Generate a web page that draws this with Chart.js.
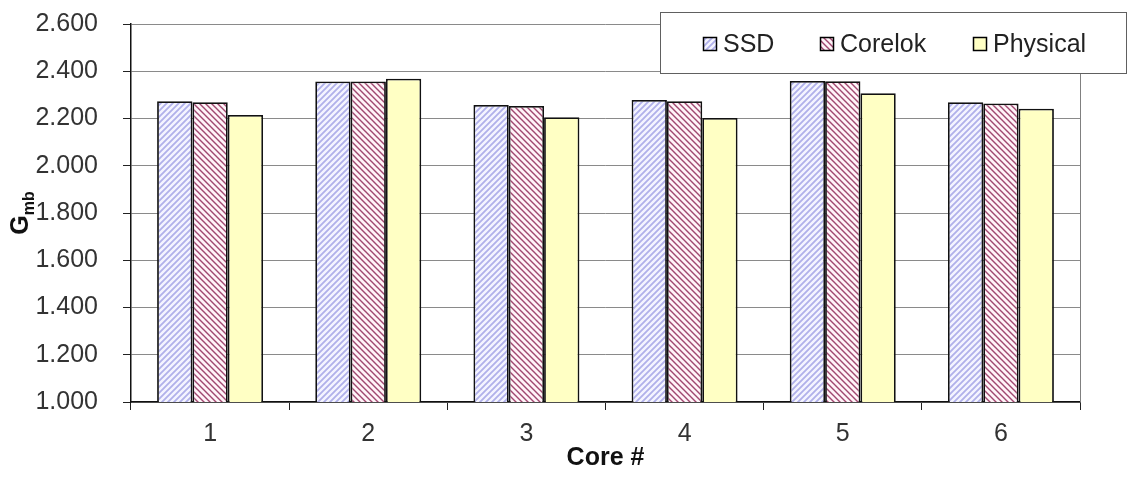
<!DOCTYPE html>
<html>
<head>
<meta charset="utf-8">
<title>Gmb by core</title>
<script src="https://cdn.jsdelivr.net/npm/chart.js@4.4.1/dist/chart.umd.min.js"></script>
<style>
  html, body { margin: 0; padding: 0; background: #fff; }
  #wrap { width: 1127px; height: 481px; }
</style>
</head>
<body>
<div id="wrap"><canvas id="gmb" width="1127" height="481"></canvas></div>
<script>
// core numbers and measured Gmb values
const cores = ['1', '2', '3', '4', '5', '6'];
const ssdValues = [2.273, 2.357, 2.257, 2.278, 2.359, 2.269];
const corelokValues = [2.269, 2.357, 2.253, 2.273, 2.358, 2.264];
const physicalValues = [2.215, 2.368, 2.205, 2.202, 2.307, 2.241];
const seriesNames = ['SSD', 'Corelok', 'Physical'];

const FONT = '"Liberation Sans", Arial, sans-serif';

// diagonal hatch fill, dir 1 = '/', dir -1 = '\'
function hatch(bg, line, dir, size, width) {
    const c = document.createElement('canvas');
    c.width = c.height = size;
    const g = c.getContext('2d');
    g.fillStyle = bg;
    g.fillRect(0, 0, size, size);
    g.strokeStyle = line;
    g.lineWidth = width;
    g.beginPath();
    for (let k = -1; k <= 1; k++) {
        if (dir > 0) {
            g.moveTo(k * size - 1, size + 1);
            g.lineTo(k * size + size + 1, -1);
        } else {
            g.moveTo(k * size - 1, -1);
            g.lineTo(k * size + size + 1, size + 1);
        }
    }
    g.stroke();
    return g.createPattern(c, 'repeat');
}

const ctx = document.getElementById('gmb').getContext('2d');
const ssdFill = hatch('#f4f4ff', '#b0b0ea', 1, 6, 1.8);
const corelokFill = hatch('#fff4f8', '#a04870', -1, 6, 1.4);
const physicalFill = '#ffffc4';

// legend box, y axis title and right frame line
const decorations = {
    id: 'decorations',
    afterDatasetsDraw(chart) {
        const c = chart.ctx;
        const area = chart.chartArea;
        c.save();
        // right edge of plot area
        c.strokeStyle = '#808080';
        c.lineWidth = 1;
        c.beginPath();
        c.moveTo(area.right + 0.5, area.top);
        c.lineTo(area.right + 0.5, area.bottom);
        c.stroke();
        c.restore();
    },
    afterDraw(chart) {
        const c = chart.ctx;
        c.save();
        // legend
        c.fillStyle = '#fff';
        c.fillRect(660, 12, 466, 61);
        c.strokeStyle = '#606060';
        c.lineWidth = 1;
        c.strokeRect(660.5, 12.5, 466, 61);
        const itemX = [703, 820, 973];
        c.font = '25px ' + FONT;
        c.textBaseline = 'middle';
        chart.data.datasets.forEach((ds, i) => {
            const x = itemX[i];
            c.fillStyle = ds.backgroundColor;
            c.fillRect(x, 37, 14, 14);
            c.strokeStyle = '#000';
            c.lineWidth = 1.5;
            c.strokeRect(x + 0.5, 37.5, 13, 13);
            c.fillStyle = '#222';
            c.fillText(ds.label, x + 20, 45);
        });
        // y axis title: G with subscript mb
        c.translate(28, 213);
        c.rotate(-Math.PI / 2);
        c.fillStyle = '#111';
        c.textBaseline = 'alphabetic';
        c.font = 'bold 25px ' + FONT;
        const gw = c.measureText('G').width;
        c.font = 'bold 16px ' + FONT;
        const sw = c.measureText('mb').width;
        const x0 = -(gw + sw) / 2;
        c.font = 'bold 25px ' + FONT;
        c.fillText('G', x0, 0);
        c.font = 'bold 16px ' + FONT;
        c.fillText('mb', x0 + gw, 6);
        c.restore();
    }
};

new Chart(ctx, {
    type: 'bar',
    data: {
        labels: cores,
        datasets: [
            { label: seriesNames[0], data: ssdValues, backgroundColor: ssdFill },
            { label: seriesNames[1], data: corelokValues, backgroundColor: corelokFill },
            { label: seriesNames[2], data: physicalValues, backgroundColor: physicalFill }
        ]
    },
    options: {
        responsive: false,
        animation: false,
        devicePixelRatio: 1,
        layout: { padding: { left: 0, right: 47, top: 24, bottom: 0 } },
        datasets: {
            bar: {
                borderColor: '#111',
                borderWidth: 1.8,
                categoryPercentage: 0.67,
                barPercentage: 1.0
            }
        },
        plugins: {
            legend: { display: false },
            tooltip: { enabled: false }
        },
        scales: {
            x: {
                afterFit(scale) { scale.height = 79; },
                grid: {
                    offset: true,
                    drawOnChartArea: false,
                    tickLength: 8,
                    tickColor: '#222'
                },
                border: { color: '#111', width: 1.5 },
                ticks: {
                    color: '#333',
                    padding: 9,
                    font: { family: FONT, size: 25 }
                },
                title: {
                    display: true,
                    text: 'Core #',
                    color: '#111',
                    padding: { top: 0, bottom: 8 },
                    font: { family: FONT, size: 25, weight: 'bold' }
                }
            },
            y: {
                min: 1.0,
                max: 2.6,
                afterFit(scale) {
                    scale.width = 131;
                    // label padding is horizontal only here
                    scale.paddingTop = 0;
                    scale.paddingBottom = 0;
                },
                grid: {
                    color: '#8a8a8a',
                    lineWidth: 1,
                    tickLength: 8,
                    tickColor: '#222'
                },
                border: { color: '#111', width: 1.5 },
                ticks: {
                    stepSize: 0.2,
                    color: '#333',
                    padding: 25,
                    font: { family: FONT, size: 25 },
                    callback: v => v.toFixed(3)
                }
            }
        }
    },
    plugins: [decorations]
});
</script>
</body>
</html>
